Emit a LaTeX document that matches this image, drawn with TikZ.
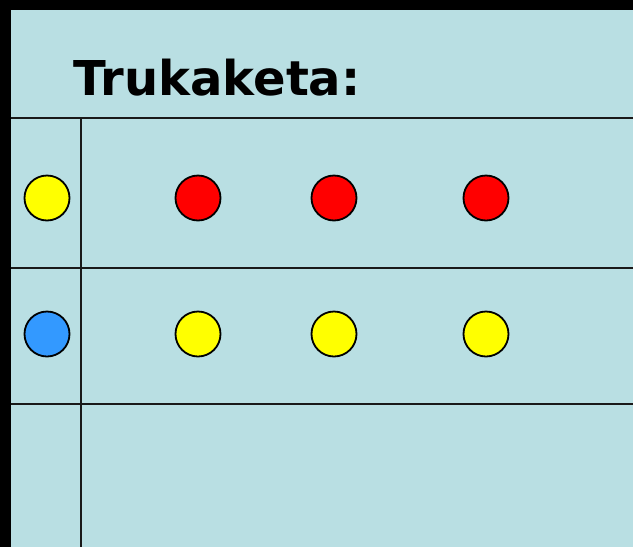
\documentclass[tikz,border=0pt]{standalone}
\usepackage{fontspec}
\setmainfont{DejaVu Sans}
\definecolor{panel}{HTML}{B9DFE3}
\definecolor{dotblue}{HTML}{3399FF}
\definecolor{dotyellow}{HTML}{FFFF00}
\definecolor{dotred}{HTML}{FF0000}
\begin{document}
\begin{tikzpicture}[x=1pt,y=-1pt,
  rule/.style={line width=2.2pt,draw=black!90},
  dot/.style={circle,draw=black,line width=1.8pt,minimum size=45pt,inner sep=0pt}]
  \useasboundingbox (0,0) rectangle (633,547);
  % frame and panel
  \fill[black] (0,0) rectangle (633,547);
  \fill[panel] (10.5,10) rectangle (633,547);
  % title
  \node[anchor=base west,inner sep=0pt,font=\bfseries\fontsize{48}{58}\selectfont] (title) at (73,95) {Trukaketa:};
  % grid rules
  \coordinate (h1l) at (10.5,118); \coordinate (h1r) at (633,118);
  \coordinate (h2l) at (10.5,268); \coordinate (h2r) at (633,268);
  \coordinate (h3l) at (10.5,404); \coordinate (h3r) at (633,404);
  \coordinate (vt) at (81,118); \coordinate (vb) at (81,547);
  \draw[rule] (h1l) -- (h1r);
  \draw[rule] (h2l) -- (h2r);
  \draw[rule] (h3l) -- (h3r);
  \draw[rule] (vt) -- (vb);
  % first row
  \node[dot,fill=dotyellow] (a0) at (47,198) {};
  \node[dot,fill=dotred] (a1) at (198,198) {};
  \node[dot,fill=dotred] (a2) at (334,198) {};
  \node[dot,fill=dotred] (a3) at (486,198) {};
  % second row
  \node[dot,fill=dotblue] (b0) at (47,334) {};
  \node[dot,fill=dotyellow] (b1) at (198,334) {};
  \node[dot,fill=dotyellow] (b2) at (334,334) {};
  \node[dot,fill=dotyellow] (b3) at (486,334) {};
\end{tikzpicture}
\end{document}
